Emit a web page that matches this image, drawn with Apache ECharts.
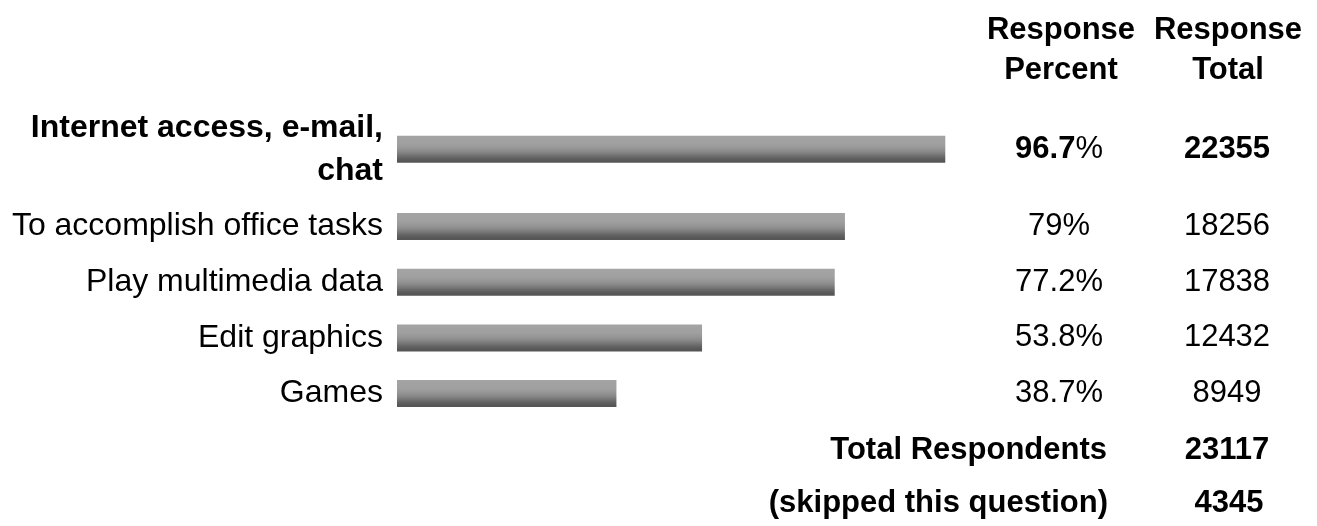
<!DOCTYPE html>
<html>
<head>
<meta charset="utf-8">
<script src="https://cdn.jsdelivr.net/npm/echarts@6/dist/echarts.min.js"></script>
<style>
  html, body { margin: 0; padding: 0; background: #fff; }
  #chart { width: 1317px; height: 526px; }
</style>
</head>
<body>
<div id="chart"></div>
<script>
const categories = ['Internet access, e-mail,\nchat', 'To accomplish office tasks', 'Play multimedia data', 'Edit graphics', 'Games'];
const percents = [96.7, 79, 77.2, 53.8, 38.7];
const totals = [22355, 18256, 17838, 12432, 8949];
const columnHeaders = ['Response\nPercent', 'Response\nTotal'];
const footerLabels = ['Total Respondents', '(skipped this question)'];
const footerValues = [23117, 4345];

const FONT = '"Liberation Sans", Arial, Helvetica, sans-serif';
const FS = 31;
const FS_LEFT = 32;

const barColor = {
  type: 'linear', x: 0, y: 0, x2: 0, y2: 1,
  colorStops: [
    { offset: 0, color: '#a4a4a4' },
    { offset: 0.3, color: '#a0a0a0' },
    { offset: 0.45, color: '#979797' },
    { offset: 0.58, color: '#8a8a8a' },
    { offset: 0.7, color: '#777777' },
    { offset: 0.8, color: '#666666' },
    { offset: 0.9, color: '#595959' },
    { offset: 1, color: '#545454' }
  ]
};

// group 0: first (highlighted) row, group 1: remaining rows
const groups = [[0], [1, 2, 3, 4]];
const grids = [
  { left: 397, right: 353, top: 121.5, height: 55.5 },
  { left: 397, right: 353, top: 198.7, height: 222.7 }
];

const xAxes = [], yAxes = [], series = [];
groups.forEach((idxs, g) => {
  const bold = g === 0;
  const cats = idxs.map(i => categories[i]);
  xAxes.push({ type: 'value', gridIndex: g, min: 0, max: 100, show: false });
  const yBase = yAxes.length;
  yAxes.push({
    type: 'category', gridIndex: g, data: cats, inverse: true,
    axisLine: { show: false }, axisTick: { show: false }, splitLine: { show: false },
    axisLabel: {
      margin: 14, fontSize: FS_LEFT, fontFamily: FONT, color: '#000',
      fontWeight: bold ? 'bold' : 'normal', lineHeight: 43, align: 'right'
    }
  });
  yAxes.push({
    type: 'category', gridIndex: g, data: idxs.map(i => String(percents[i])), inverse: true, position: 'right',
    axisLine: { show: false }, axisTick: { show: false }, splitLine: { show: false },
    axisLabel: {
      margin: 95, align: 'center', fontSize: FS, fontFamily: FONT, color: '#000',
      formatter: v => bold ? '{b|' + v + '}{r|%}' : v + '%',
      rich: {
        b: { fontSize: FS, fontFamily: FONT, fontWeight: 'bold', color: '#000' },
        r: { fontSize: FS, fontFamily: FONT, color: '#000' }
      }
    }
  });
  yAxes.push({
    type: 'category', gridIndex: g, data: idxs.map(i => String(totals[i])), inverse: true, position: 'right',
    axisLine: { show: false }, axisTick: { show: false }, splitLine: { show: false },
    axisLabel: {
      margin: 263, align: 'center', fontSize: FS, fontFamily: FONT, color: '#000',
      fontWeight: bold ? 'bold' : 'normal'
    }
  });
  series.push({
    type: 'bar', xAxisIndex: g, yAxisIndex: yBase,
    data: idxs.map(i => percents[i]),
    barWidth: 27, itemStyle: { color: barColor }, silent: true,
    animation: false
  });
});

const textStyle = (text, align, weight) => ({
  text, fontSize: FS, fontFamily: FONT, fontWeight: weight, fill: '#000',
  align, verticalAlign: 'middle', lineHeight: 40
});

const graphic = [
  { type: 'text', x: 1061, y: 50, style: textStyle(columnHeaders[0], 'center', 'bold') },
  { type: 'text', x: 1228, y: 50, style: textStyle(columnHeaders[1], 'center', 'bold') },
  { type: 'text', x: 1107, y: 450, style: textStyle(footerLabels[0], 'right', 'bold') },
  { type: 'text', x: 1227, y: 450, style: textStyle(String(footerValues[0]), 'center', 'bold') },
  { type: 'text', x: 1108, y: 503, style: textStyle(footerLabels[1], 'right', 'bold') },
  { type: 'text', x: 1229, y: 503, style: textStyle(String(footerValues[1]), 'center', 'bold') }
];

const chart = echarts.init(document.getElementById('chart'), null, { renderer: 'canvas' });
chart.setOption({
  animation: false,
  backgroundColor: '#fff',
  grid: grids,
  xAxis: xAxes,
  yAxis: yAxes,
  series,
  graphic
});
</script>
</body>
</html>
